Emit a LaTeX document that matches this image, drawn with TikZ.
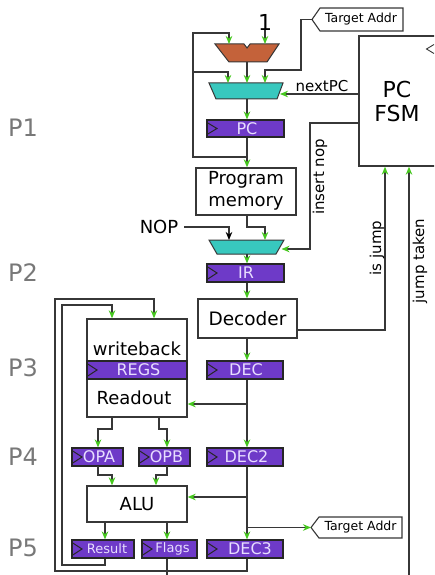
\documentclass[tikz,border=0pt]{standalone}
\usepackage{fontspec}
\setmainfont{DejaVu Sans}
\usetikzlibrary{arrows.meta}
\definecolor{regfill}{RGB}{110,58,200}
\definecolor{regtext}{RGB}{232,222,255}
\definecolor{addc}{RGB}{196,98,58}
\definecolor{muxc}{RGB}{56,200,190}
\definecolor{agreen}{RGB}{70,200,30}
\definecolor{linec}{RGB}{55,55,55}
\definecolor{plabel}{RGB}{120,120,120}
\begin{document}
\begin{tikzpicture}[x=1pt,y=-1pt,
  ln/.style={draw=linec, line width=1.3pt},
  ga/.style={ln, -{Stealth[length=8pt,width=6.5pt,inset=2.5pt,color=agreen]}},
  ba/.style={ln, -{Stealth[length=8pt,width=6.5pt,inset=2.5pt,color=black]}},
  box/.style={draw=linec, line width=1.3pt, fill=white, inner sep=0pt},
  reg/.style={draw=black!85, line width=1.1pt, fill=regfill, inner sep=0pt,
    path picture={\draw[line width=1pt, draw=black!85]
      ([yshift=-2.5pt]path picture bounding box.north west) --
      ([xshift=10pt]path picture bounding box.west) --
      ([yshift=2.5pt]path picture bounding box.south west);}},
  rt/.style={text=regtext, inner sep=0pt, font=\fontsize{16}{16}\selectfont},
  rts/.style={text=regtext, inner sep=0pt, font=\fontsize{13}{14}\selectfont},
  pl/.style={text=plabel, inner sep=0pt, font=\fontsize{24}{24}\selectfont},
  lbl/.style={inner sep=0pt, font=\fontsize{15}{15}\selectfont},
  big/.style={inner sep=0pt, font=\fontsize{18}{22}\selectfont, align=center},
  tag/.style={draw=linec, line width=1.1pt, fill=white},
  tagt/.style={inner sep=0pt, font=\fontsize{12.5}{13}\selectfont}
]
\useasboundingbox (0,0) rectangle (434,575);
\clip (0,0) rectangle (434,575);

% stage labels
\node[pl] (p1) at (23,128) {P1};
\node[pl] (p2) at (23,273) {P2};
\node[pl] (p3) at (23,368) {P3};
\node[pl] (p4) at (23,457) {P4};
\node[pl] (p5) at (23,548) {P5};

% PC FSM
\node[box, minimum width=82pt, minimum height=130pt] (fsm) at (400,101) {};
\node[inner sep=0pt, font=\fontsize{22}{24}\selectfont, align=center] (fsmt) at (397,101) {PC\\FSM};
\draw[line width=0.9pt, draw=linec] (434,44.5) -- (426.5,49) -- (434,53.5);

% adder and muxes
\draw[ln, fill=addc, line width=1pt] (215,44) -- (244,44) -- (247,48) -- (250,44) -- (279,44) -- (267,62) -- (229,62) -- cycle;
\draw[ln, fill=muxc, line width=1pt] (209,83) -- (283,83) -- (277,99) -- (216,99) -- cycle;
\draw[ln, fill=muxc, line width=1pt] (209,240) -- (284,240) -- (276,254) -- (217,254) -- cycle;
\coordinate (addin1) at (229,44);
\coordinate (addin2) at (265,44);
\coordinate (addB) at (247,62);
\coordinate (m1in1) at (228,83);
\coordinate (m1T) at (247,83);
\coordinate (m1in3) at (265,83);
\coordinate (m1B) at (247,99);
\coordinate (m1R) at (280,94);
\coordinate (m2in1) at (229,240);
\coordinate (m2in2) at (265,240);
\coordinate (m2B) at (247,254);
\coordinate (m2R) at (281.5,249);
\coordinate (cx) at (247,0);

\node[inner sep=0pt, font=\fontsize{22}{22}\selectfont] (one) at (265,22) {1};

% target addr tags
\draw[tag] (312,19.5) -- (320,8) -- (403,8) -- (403,31) -- (320,31) -- cycle;
\node[tagt] (ta1) at (361,19.5) {Target Addr};
\coordinate (ta1p) at (312,19.5);
\draw[tag] (311,527.5) -- (319,517) -- (402,517) -- (402,538) -- (319,538) -- cycle;
\node[tagt] (ta2) at (360.5,527.5) {Target Addr};
\coordinate (ta2p) at (311,527.5);

% registers and blocks
\node[reg, minimum width=77pt, minimum height=17pt] (pc) at (245.5,128.5) {};
\node[rt] (pct) at (247,128.5) {PC};
\node[box, minimum width=100pt, minimum height=47pt] (pm) at (246,191.5) {};
\node[big] (pmt) at (246,191) {Program\\memory};
\node[reg, minimum width=77pt, minimum height=18pt] (ir) at (245.5,273) {};
\node[rt] (irt) at (246,273) {IR};
\node[box, minimum width=99pt, minimum height=39pt] (dcd) at (247.5,318.5) {};
\node[inner sep=0pt, font=\fontsize{18.5}{20}\selectfont] (dcdt) at (247.5,318.5) {Decoder};
\node[reg, minimum width=76pt, minimum height=18pt] (dec) at (245,370) {};
\node[rt] (dect) at (246,370) {DEC};
\node[box, minimum width=100pt, minimum height=98pt] (rf) at (137,368) {};
\node[big] (wbt) at (137,349) {writeback};
\node[big] (rot) at (134,398) {Readout};
\node[reg, minimum width=100pt, minimum height=18pt] (regs) at (137,370) {};
\node[rt] (regst) at (138.5,370) {REGS};
\node[reg, minimum width=51pt, minimum height=18pt] (opa) at (97.5,457) {};
\node[rt] (opat) at (99,457) {OPA};
\node[reg, minimum width=51pt, minimum height=18pt] (opb) at (164.5,457) {};
\node[rt] (opbt) at (166.5,457) {OPB};
\node[reg, minimum width=76pt, minimum height=18pt] (dec2) at (245,457) {};
\node[rt] (dec2t) at (246.5,457) {DEC2};
\node[box, minimum width=100pt, minimum height=36pt] (alu) at (137,504) {};
\node[big] (alut) at (137,504) {ALU};
\node[reg, minimum width=62pt, minimum height=18pt] (res) at (103,549) {};
\node[rts] (rest) at (107,549) {Result};
\node[reg, minimum width=55pt, minimum height=18pt] (flg) at (169.5,549) {};
\node[rts] (flgt) at (172.5,549) {Flags};
\node[reg, minimum width=76pt, minimum height=18pt] (dec3) at (245,549) {};
\node[rt] (dec3t) at (250,549) {DEC3};

% NOP text
\node[big] (nop) at (159,227) {NOP};

% P1 connections
\draw[ga] (one.south) -- (addin2);
\draw[ga] (addB) -- (m1T);
\draw[ga] (ta1p) -- (301,19.5) -- (301,70) -- (265,70) -- (m1in3);
\draw[ga] (m1R -| fsm.west) -- (m1R);
\node[lbl] (npc) at (322,86) {nextPC};
\draw[ga] (m1B) -- (pc.north -| cx);
\draw[ga] (pc.south -| cx) -- (pm.north -| cx);
\draw[ga] (247,157) -- (193,157) -- (193,33) -- (229,33) -- (addin1);
\draw[ga] (193,72) -- (228,72) -- (m1in1);
\draw[ga] (fsm.west |- 0,123) -- (310,123) -- (310,249) -- (m2R);
\node[lbl, rotate=90] (insn) at (320,177) {insert nop};

% P2
\draw[ga] (pm.south -| cx) -- (247,227) -- (265,227) -- (m2in2);
\draw[ba] (nop.east) ++(6,0) -- (229,227) -- (m2in1);
\draw[ga] (m2B) -- (ir.north -| cx);
\draw[ga] (ir.south -| cx) -- (dcd.north -| cx);
\draw[ga] (dcd.east |- 0,330) -- (385,330) -- (fsm.south -| 385,0);
\node[lbl, rotate=90] (isj) at (377,248) {is jump};
\draw[ga] (409,575) -- (fsm.south -| 409,0);
\node[lbl, rotate=90] (jt) at (420,261) {jump taken};

% P3
\draw[ga] (dcd.south -| cx) -- (dec.north -| cx);
\draw[ga] (dec.south -| cx) -- (dec2.north -| cx);
\draw[ga] (247,404) -- (rf.east |- 0,404);
\draw[ga] (112,417) -- (112,429) -- (98,429) -- (opa.north -| 98,0);
\draw[ga] (159,417) -- (159,429) -- (167,429) -- (opb.north -| 167,0);

% P4
\draw[ga] (98,466) -- (98,475) -- (112,475) -- (alu.north -| 112,0);
\draw[ga] (167,466) -- (167,475) -- (156,475) -- (alu.north -| 156,0);
\draw[ga] (dec2.south -| cx) -- (dec3.north -| cx);
\draw[ga] (247,497) -- (alu.east |- 0,497);
\draw[ga] (247,527.5) -- (ta2p);

% P5
\draw[ga] (alu.south -| 105,0) -- (res.north -| 105,0);
\draw[ga] (alu.south -| 167,0) -- (flg.north -| 167,0);
\draw[ga] (res.south -| 105,0) -- (105,565) -- (62,565) -- (62,305) -- (112,305) -- (rf.north -| 112,0);
\draw[ga] (dec3.south -| cx) -- (247,571) -- (55,571) -- (55,299) -- (154,299) -- (rf.north -| 154,0);
\draw[ln] (flg.south -| 167,0) -- (167,575);
\end{tikzpicture}
\end{document}
